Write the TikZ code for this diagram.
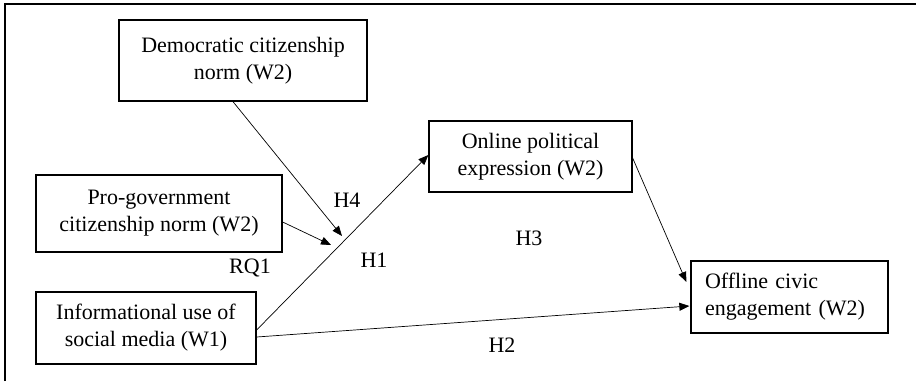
\documentclass[tikz,border=0pt]{standalone}
\usepackage{fontspec}
\setmainfont{Liberation Serif}
\usetikzlibrary{arrows.meta,calc}
\begin{document}
\begin{tikzpicture}[x=1pt,y=-1pt,
  box/.style={draw, line width=1.3pt, inner sep=0pt, font=\fontsize{22}{27}\selectfont, align=center},
  lbl/.style={font=\fontsize{22}{27}\selectfont, inner sep=0pt},
  arr/.style={line width=0.7pt, -{Triangle[length=10pt,width=8pt]}}]
\useasboundingbox (0,0) rectangle (916,381);
\draw[line width=1.3pt] (5,381) |- (916,4);
\node[box, minimum width=248pt, minimum height=81pt] (dem) at (243,60.5) {Democratic citizenship\\norm (W2)};
\node[box, minimum width=246pt, minimum height=77pt] (pg) at (159,213.5) {Pro-government\\citizenship norm (W2)};
\node[box, minimum width=220pt, minimum height=72pt] (info) at (146,328) {Informational use of\\social media (W1)};
\node[box, minimum width=203pt, minimum height=71pt] (online) at (530.5,156.5) {Online political\\expression (W2)};
\node[box, text width=169pt, inner xsep=14pt, minimum height=72pt, align=left] (offline) at (789.5,297) {Offline civic\\engagement (W2)};
\coordinate (m1) at (342,236);
\coordinate (m2) at (331,245);
\draw[arr] ([xshift=-10pt]dem.south) -- (m1);
\draw[arr] ([yshift=-8.5pt]pg.east) -- (m2);
\draw[arr] ([yshift=-2pt]info.east) -- ([yshift=1.5pt]online.west);
\draw[arr] ([yshift=-9pt]info.east) -- ([yshift=-9pt,xshift=-1pt]offline.west);
\draw[arr] ([yshift=-1.5pt]online.east) -- ([yshift=15pt,xshift=-4pt]offline.west);
\node[lbl] (h4) at (347,200) {H4};
\node[lbl] (rq1) at (250,268) {RQ1};
\node[lbl] (h1) at (374,260) {H1};
\node[lbl] (h3) at (529,238) {H3};
\node[lbl] (h2) at (502,345) {H2};
\end{tikzpicture}
\end{document}
